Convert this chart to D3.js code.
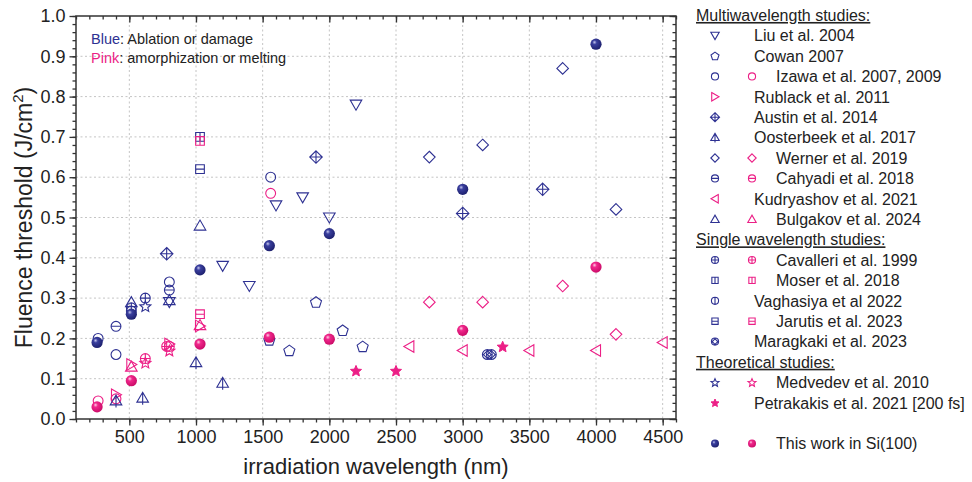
<!DOCTYPE html>
<html>
<head>
<meta charset="utf-8">
<script src="https://cdn.jsdelivr.net/npm/d3@7"></script>
<style>
  body { margin: 0; background: #fff; }
  text { font-family: "Liberation Sans", Arial, Helvetica, sans-serif; fill: #222; }
</style>
</head>
<body>
<svg id="chart" width="972" height="482"></svg>
<script>
// Threshold fluence (J/cm^2) vs irradiation wavelength (nm), grouped by study.
// "Blue" = ablation / damage threshold, "Pink" = amorphization / melting threshold.
const liuWl = [800, 1200, 1400, 1600, 1800, 2000, 2200];
const liuBlue = [0.29, 0.38, 0.33, 0.53, 0.55, 0.50, 0.78];

const cowanWl = [1550, 1700, 1900, 2100, 2250];
const cowanBlue = [0.196, 0.17, 0.29, 0.22, 0.18];

const izawaWl = [266, 400, 800, 1560];
const izawaBlue = [0.20, 0.16, 0.34, 0.60];
const izawaPinkWl = [266, 400, 1560];
const izawaPink = [0.045, 0.05, 0.56];

const rublackWl = [400, 515, 800, 1030];
const rublackPink = [0.06, 0.135, 0.186, 0.231];

const austinWl = [780, 1900, 3000, 3600];
const austinBlue = [0.41, 0.65, 0.51, 0.57];

const oosterbeekWl = [400, 600, 1000, 1200];
const oosterbeekBlue = [0.045, 0.052, 0.14, 0.089];

const wernerWl = [2750, 3150, 3750, 4150];
const wernerBlue = [0.65, 0.68, 0.87, 0.52];
const wernerPink = [0.29, 0.29, 0.33, 0.21];

const cahyadiWl = [400, 515, 800];
const cahyadiBlue = [0.23, 0.268, 0.32];
const cahyadiPinkWl = [800];
const cahyadiPink = [0.18];

const kudryashovWl = [2600, 3000, 3500, 4000, 4500];
const kudryashovPink = [0.18, 0.17, 0.17, 0.17, 0.19];

const bulgakovWl = [515, 800, 1030];
const bulgakovBlue = [0.29, 0.295, 0.48];
const bulgakovPinkWl = [515, 1030];
const bulgakovPink = [0.13, 0.233];

const cavalleriWl = [620];
const cavalleriBlue = [0.30];
const cavalleriPinkWl = [620, 780];
const cavalleriPink = [0.15, 0.18];

const moserWl = [1030];
const moserBlue = [0.70];
const moserPink = [0.69];

const vaghasiyaWl = [515];
const vaghasiyaBlue = [0.276];

const jarutisWl = [1030];
const jarutisBlue = [0.62];
const jarutisPink = [0.26];

const maragkakiWl = [3185, 3215];
const maragkakiBlue = [0.16, 0.16];

const medvedevWl = [620];
const medvedevBlue = [0.28];
const medvedevPinkWl = [620, 800];
const medvedevPink = [0.14, 0.17];

const petrakakisWl = [2200, 2500, 3300];
const petrakakisPink = [0.12, 0.12, 0.18];

const thisWorkWl = [258, 515, 1030, 1550, 2000, 3000, 4000];
const thisWorkBlue = [0.19, 0.26, 0.37, 0.43, 0.46, 0.57, 0.93];
const thisWorkPink = [0.03, 0.095, 0.186, 0.203, 0.198, 0.22, 0.377];

const xTicks = [500, 1000, 1500, 2000, 2500, 3000, 3500, 4000, 4500];
const yTicks = [0.0, 0.1, 0.2, 0.3, 0.4, 0.5, 0.6, 0.7, 0.8, 0.9, 1.0];

const BLUE = "#2e3192";
const PINK = "#ec1f86";

// Legend rows: [label, blue symbol, pink symbol]; heading rows have no symbols.
const legendRows = [
  ["Multiwavelength studies:", null, null, "head"],
  ["Liu et al. 2004", "triDown", null],
  ["Cowan 2007", "pentagon", null],
  ["Izawa et al. 2007, 2009", "circle", "circle"],
  ["Rublack et al. 2011", null, "triRight"],
  ["Austin et al. 2014", "diamondPlus", null],
  ["Oosterbeek et al. 2017", "triStem", null],
  ["Werner et al. 2019", "diamond", "diamond"],
  ["Cahyadi et al. 2018", "circleH", "circleH"],
  ["Kudryashov et al. 2021", null, "triLeft"],
  ["Bulgakov et al. 2024", "triUp", "triUp"],
  ["Single wavelength studies:", null, null, "head"],
  ["Cavalleri et al. 1999", "circlePlus", "circlePlus"],
  ["Moser et al. 2018", "squareV", "squareV"],
  ["Vaghasiya et al 2022", "circleV", null],
  ["Jarutis et al. 2023", "squareH", "squareH"],
  ["Maragkaki et al. 2023", "hatch", null],
  ["Theoretical studies:", null, null, "head"],
  ["Medvedev et al. 2010", "star", "star"],
  ["Petrakakis et al. 2021 [200 fs]", null, "starFilled"],
  ["", null, null, "blank"],
  ["This work in Si(100)", "sphere", "sphere"]
];

// Series in drawing order (this work last, on top)
const series = [
  { sym: "triDown", color: BLUE, wl: liuWl, val: liuBlue },
  { sym: "pentagon", color: BLUE, wl: cowanWl, val: cowanBlue },
  { sym: "circle", color: BLUE, wl: izawaWl, val: izawaBlue },
  { sym: "circle", color: PINK, wl: izawaPinkWl, val: izawaPink },
  { sym: "triRight", color: PINK, wl: rublackWl, val: rublackPink },
  { sym: "diamondPlus", color: BLUE, wl: austinWl, val: austinBlue },
  { sym: "triStem", color: BLUE, wl: oosterbeekWl, val: oosterbeekBlue },
  { sym: "diamond", color: BLUE, wl: wernerWl, val: wernerBlue },
  { sym: "diamond", color: PINK, wl: wernerWl, val: wernerPink },
  { sym: "circleH", color: BLUE, wl: cahyadiWl, val: cahyadiBlue },
  { sym: "circleH", color: PINK, wl: cahyadiPinkWl, val: cahyadiPink },
  { sym: "triLeft", color: PINK, wl: kudryashovWl, val: kudryashovPink },
  { sym: "triUp", color: BLUE, wl: bulgakovWl, val: bulgakovBlue },
  { sym: "triUp", color: PINK, wl: bulgakovPinkWl, val: bulgakovPink },
  { sym: "circlePlus", color: BLUE, wl: cavalleriWl, val: cavalleriBlue },
  { sym: "circlePlus", color: PINK, wl: cavalleriPinkWl, val: cavalleriPink },
  { sym: "squareV", color: BLUE, wl: moserWl, val: moserBlue },
  { sym: "squareV", color: PINK, wl: moserWl, val: moserPink },
  { sym: "circleV", color: BLUE, wl: vaghasiyaWl, val: vaghasiyaBlue },
  { sym: "squareH", color: BLUE, wl: jarutisWl, val: jarutisBlue },
  { sym: "squareH", color: PINK, wl: jarutisWl, val: jarutisPink },
  { sym: "hatch", color: BLUE, wl: maragkakiWl, val: maragkakiBlue },
  { sym: "star", color: BLUE, wl: medvedevWl, val: medvedevBlue },
  { sym: "star", color: PINK, wl: medvedevPinkWl, val: medvedevPink },
  { sym: "starFilled", color: PINK, wl: petrakakisWl, val: petrakakisPink },
  { sym: "sphere", color: BLUE, wl: thisWorkWl, val: thisWorkBlue },
  { sym: "sphere", color: PINK, wl: thisWorkWl, val: thisWorkPink }
];

const svg = d3.select("#chart");
const margin = { left: 76, top: 16, right: 676, bottom: 419 };

const x = d3.scaleLinear().domain([100, 4600]).range([margin.left, margin.right]);
const y = d3.scaleLinear().domain([0, 1]).range([margin.bottom, margin.top]);

// gradients for the shaded "this work" markers
const defs = svg.append("defs");
function sphereGrad(id, light, mid, dark) {
  const g = defs.append("radialGradient").attr("id", id)
    .attr("cx", "0.4").attr("cy", "0.38").attr("r", "0.65").attr("fx", "0.36").attr("fy", "0.32");
  g.append("stop").attr("offset", "0").attr("stop-color", light);
  g.append("stop").attr("offset", "0.3").attr("stop-color", mid);
  g.append("stop").attr("offset", "1").attr("stop-color", dark);
}
sphereGrad("gBlue", "#c4c6ee", "#3a3f9e", "#1c1f6c");
sphereGrad("gPink", "#ffd0e6", "#f0288c", "#c90a66");

// ---- grid ----
const grid = svg.append("g").attr("stroke", "#c4c4c4").attr("stroke-width", 1).attr("stroke-dasharray", "2,2.5");
grid.selectAll("line.gx").data(xTicks).join("line")
  .attr("x1", d => x(d)).attr("x2", d => x(d)).attr("y1", margin.top).attr("y2", margin.bottom);
grid.selectAll("line.gy").data(yTicks.filter(d => d > 0 && d < 1)).join("line")
  .attr("x1", margin.left).attr("x2", margin.right).attr("y1", d => y(d)).attr("y2", d => y(d));

// ---- axes ----
const axisColor = "#333";
function styleAxis(g) {
  g.select(".domain").remove();
  g.selectAll("line").attr("stroke", axisColor).attr("stroke-width", 1.3);
}
const minorX = d3.range(100, 4601, 100);
const minorY = d3.range(0, 51).map(i => i * 0.02);

svg.append("g").attr("transform", `translate(0,${margin.bottom})`)
  .call(d3.axisBottom(x).tickValues(minorX).tickSize(3.5).tickFormat(""))
  .call(styleAxis);
svg.append("g").attr("transform", `translate(0,${margin.bottom})`)
  .call(d3.axisBottom(x).tickValues(xTicks).tickSize(6.5).tickPadding(5).tickFormat(d3.format("d")))
  .call(styleAxis)
  .call(g => g.selectAll("text").attr("font-size", 18).attr("fill", "#222")
    .attr("font-family", "'Liberation Sans', Arial, sans-serif"));

svg.append("g").attr("transform", `translate(0,${margin.top})`)
  .call(d3.axisTop(x).tickValues(minorX).tickSize(-3.5).tickFormat(""))
  .call(styleAxis);
svg.append("g").attr("transform", `translate(0,${margin.top})`)
  .call(d3.axisTop(x).tickValues(xTicks).tickSize(-6.5).tickFormat(""))
  .call(styleAxis);

svg.append("g").attr("transform", `translate(${margin.left},0)`)
  .call(d3.axisLeft(y).tickValues(minorY).tickSize(3.5).tickFormat(""))
  .call(styleAxis);
svg.append("g").attr("transform", `translate(${margin.left},0)`)
  .call(d3.axisLeft(y).tickValues(yTicks).tickSize(6.5).tickPadding(4).tickFormat(d3.format(".1f")))
  .call(styleAxis)
  .call(g => g.selectAll("text").attr("font-size", 18).attr("fill", "#222")
    .attr("font-family", "'Liberation Sans', Arial, sans-serif"));

svg.append("g").attr("transform", `translate(${margin.right},0)`)
  .call(d3.axisRight(y).tickValues(minorY).tickSize(-3.5).tickFormat(""))
  .call(styleAxis);
svg.append("g").attr("transform", `translate(${margin.right},0)`)
  .call(d3.axisRight(y).tickValues(yTicks).tickSize(-6.5).tickFormat(""))
  .call(styleAxis);

svg.append("rect")
  .attr("x", margin.left).attr("y", margin.top)
  .attr("width", margin.right - margin.left).attr("height", margin.bottom - margin.top)
  .attr("fill", "none").attr("stroke", axisColor).attr("stroke-width", 1.5);

// ---- axis titles ----
svg.append("text")
  .attr("x", (margin.left + margin.right) / 2).attr("y", 474)
  .attr("text-anchor", "middle").attr("font-size", 22)
  .text("irradiation wavelength (nm)");

const yTitle = svg.append("text")
  .attr("transform", `translate(32,${(margin.top + margin.bottom) / 2}) rotate(-90)`)
  .attr("text-anchor", "middle").attr("font-size", 23);
yTitle.append("tspan").text("Fluence threshold (J/cm");
yTitle.append("tspan").attr("font-size", 15).attr("dy", -9).text("2");
yTitle.append("tspan").attr("dy", 9).text(")");

// ---- symbols ----
function symbolPath(type, r) {
  const p = d3.path();
  const circ = (rad) => { p.moveTo(rad, 0); p.arc(0, 0, rad, 0, 2 * Math.PI); };
  switch (type) {
    case "triDown":
      p.moveTo(-r, -0.78 * r); p.lineTo(r, -0.78 * r); p.lineTo(0, 0.95 * r); p.closePath(); break;
    case "triUp":
      p.moveTo(-r, 0.78 * r); p.lineTo(r, 0.78 * r); p.lineTo(0, -0.95 * r); p.closePath(); break;
    case "triStem":
      p.moveTo(-r, 0.7 * r); p.lineTo(r, 0.7 * r); p.lineTo(0, -1.0 * r); p.closePath();
      p.moveTo(0, -1.0 * r); p.lineTo(0, 1.15 * r); break;
    case "triRight":
      p.moveTo(-0.78 * r, -r); p.lineTo(0.95 * r, 0); p.lineTo(-0.78 * r, r); p.closePath(); break;
    case "triLeft":
      p.moveTo(0.78 * r, -r); p.lineTo(-0.95 * r, 0); p.lineTo(0.78 * r, r); p.closePath(); break;
    case "pentagon":
      for (let k = 0; k < 5; k++) {
        const a = -Math.PI / 2 + k * 2 * Math.PI / 5;
        const px = r * Math.cos(a), py = r * Math.sin(a) + 0.08 * r;
        if (k === 0) p.moveTo(px, py); else p.lineTo(px, py);
      }
      p.closePath(); break;
    case "circle": circ(0.85 * r); break;
    case "sphere": circ(r); break;
    case "circleH": circ(0.85 * r); p.moveTo(-0.85 * r, 0); p.lineTo(0.85 * r, 0); break;
    case "circleV": circ(0.85 * r); p.moveTo(0, -0.85 * r); p.lineTo(0, 0.85 * r); break;
    case "circlePlus":
      circ(0.85 * r); p.moveTo(-0.85 * r, 0); p.lineTo(0.85 * r, 0);
      p.moveTo(0, -0.85 * r); p.lineTo(0, 0.85 * r); break;
    case "diamond":
      p.moveTo(0, -r); p.lineTo(r, 0); p.lineTo(0, r); p.lineTo(-r, 0); p.closePath(); break;
    case "diamondPlus": {
      const d = 1.08 * r;
      p.moveTo(0, -d); p.lineTo(d, 0); p.lineTo(0, d); p.lineTo(-d, 0); p.closePath();
      p.moveTo(-d, 0); p.lineTo(d, 0); p.moveTo(0, -d); p.lineTo(0, d);
      break;
    }
    case "squareH": {
      const s = 0.75 * r;
      p.rect(-s, -s, 2 * s, 2 * s); p.moveTo(-s, 0); p.lineTo(s, 0); break;
    }
    case "squareV": {
      const s = 0.75 * r;
      p.rect(-s, -s, 2 * s, 2 * s); p.moveTo(0, -s); p.lineTo(0, s); break;
    }
    case "hatch": {
      const rr = 0.85 * r;
      circ(rr);
      const s2 = Math.SQRT1_2;
      [-0.55, 0.55].forEach(f => {
        const d = f * rr, h = Math.sqrt(rr * rr - d * d);
        p.moveTo(d * s2 - h * s2, -d * s2 - h * s2); p.lineTo(d * s2 + h * s2, -d * s2 + h * s2);
        p.moveTo(d * s2 - h * s2, d * s2 + h * s2); p.lineTo(d * s2 + h * s2, d * s2 - h * s2);
      });
      break;
    }
    case "star":
    case "starFilled":
      for (let k = 0; k < 10; k++) {
        const a = -Math.PI / 2 + k * Math.PI / 5;
        const rad = k % 2 === 0 ? r : 0.45 * r;
        const px = rad * Math.cos(a), py = rad * Math.sin(a) + 0.1 * r;
        if (k === 0) p.moveTo(px, py); else p.lineTo(px, py);
      }
      p.closePath(); break;
  }
  return p.toString();
}

function drawSymbol(g, type, color, cx, cy, r) {
  const path = g.append("path")
    .attr("transform", `translate(${cx},${cy})`)
    .attr("d", symbolPath(type, r));
  if (type === "sphere") {
    path.attr("fill", color === BLUE ? "url(#gBlue)" : "url(#gPink)").attr("stroke", "none");
  } else if (type === "starFilled") {
    path.attr("fill", color).attr("stroke", color).attr("stroke-width", 1);
  } else {
    path.attr("fill", "none").attr("stroke", color).attr("stroke-width", 1.1);
  }
}

const marks = svg.append("g");
series.forEach(s => {
  s.wl.forEach((w, i) => {
    drawSymbol(marks, s.sym, s.color, x(w), y(s.val[i]), s.sym === "sphere" ? 5.6 : 5.8);
  });
});

// ---- annotation ----
const note = svg.append("g").attr("font-size", 14.5);
const n1 = note.append("text").attr("x", 91).attr("y", 44);
n1.append("tspan").style("fill", BLUE).text("Blue");
n1.append("tspan").text(": Ablation or damage");
const n2 = note.append("text").attr("x", 91).attr("y", 63);
n2.append("tspan").style("fill", PINK).text("Pink");
n2.append("tspan").text(": amorphization or melting");

// ---- legend ----
const leg = svg.append("g");
const rowH = 20.4, row0 = 15.2;
const colBlue = 715, colPink = 752;
legendRows.forEach((row, i) => {
  const [label, bSym, pSym, kind] = row;
  const cy = row0 + i * rowH;
  if (kind === "head") {
    leg.append("text").attr("x", 696).attr("y", cy).attr("dy", "0.36em")
      .attr("font-size", 16).style("text-decoration", "underline").text(label);
    return;
  }
  if (kind === "blank") return;
  const two = bSym && pSym;
  if (bSym) drawSymbol(leg, bSym, BLUE, colBlue, cy, bSym === "sphere" ? 4 : 4.2);
  if (pSym) drawSymbol(leg, pSym, PINK, two ? colPink : colBlue, cy, pSym === "sphere" ? 4 : 4.2);
  leg.append("text").attr("x", two ? 776 : 754).attr("y", cy).attr("dy", "0.36em")
    .attr("font-size", 16).text(label);
});
</script>
</body>
</html>
